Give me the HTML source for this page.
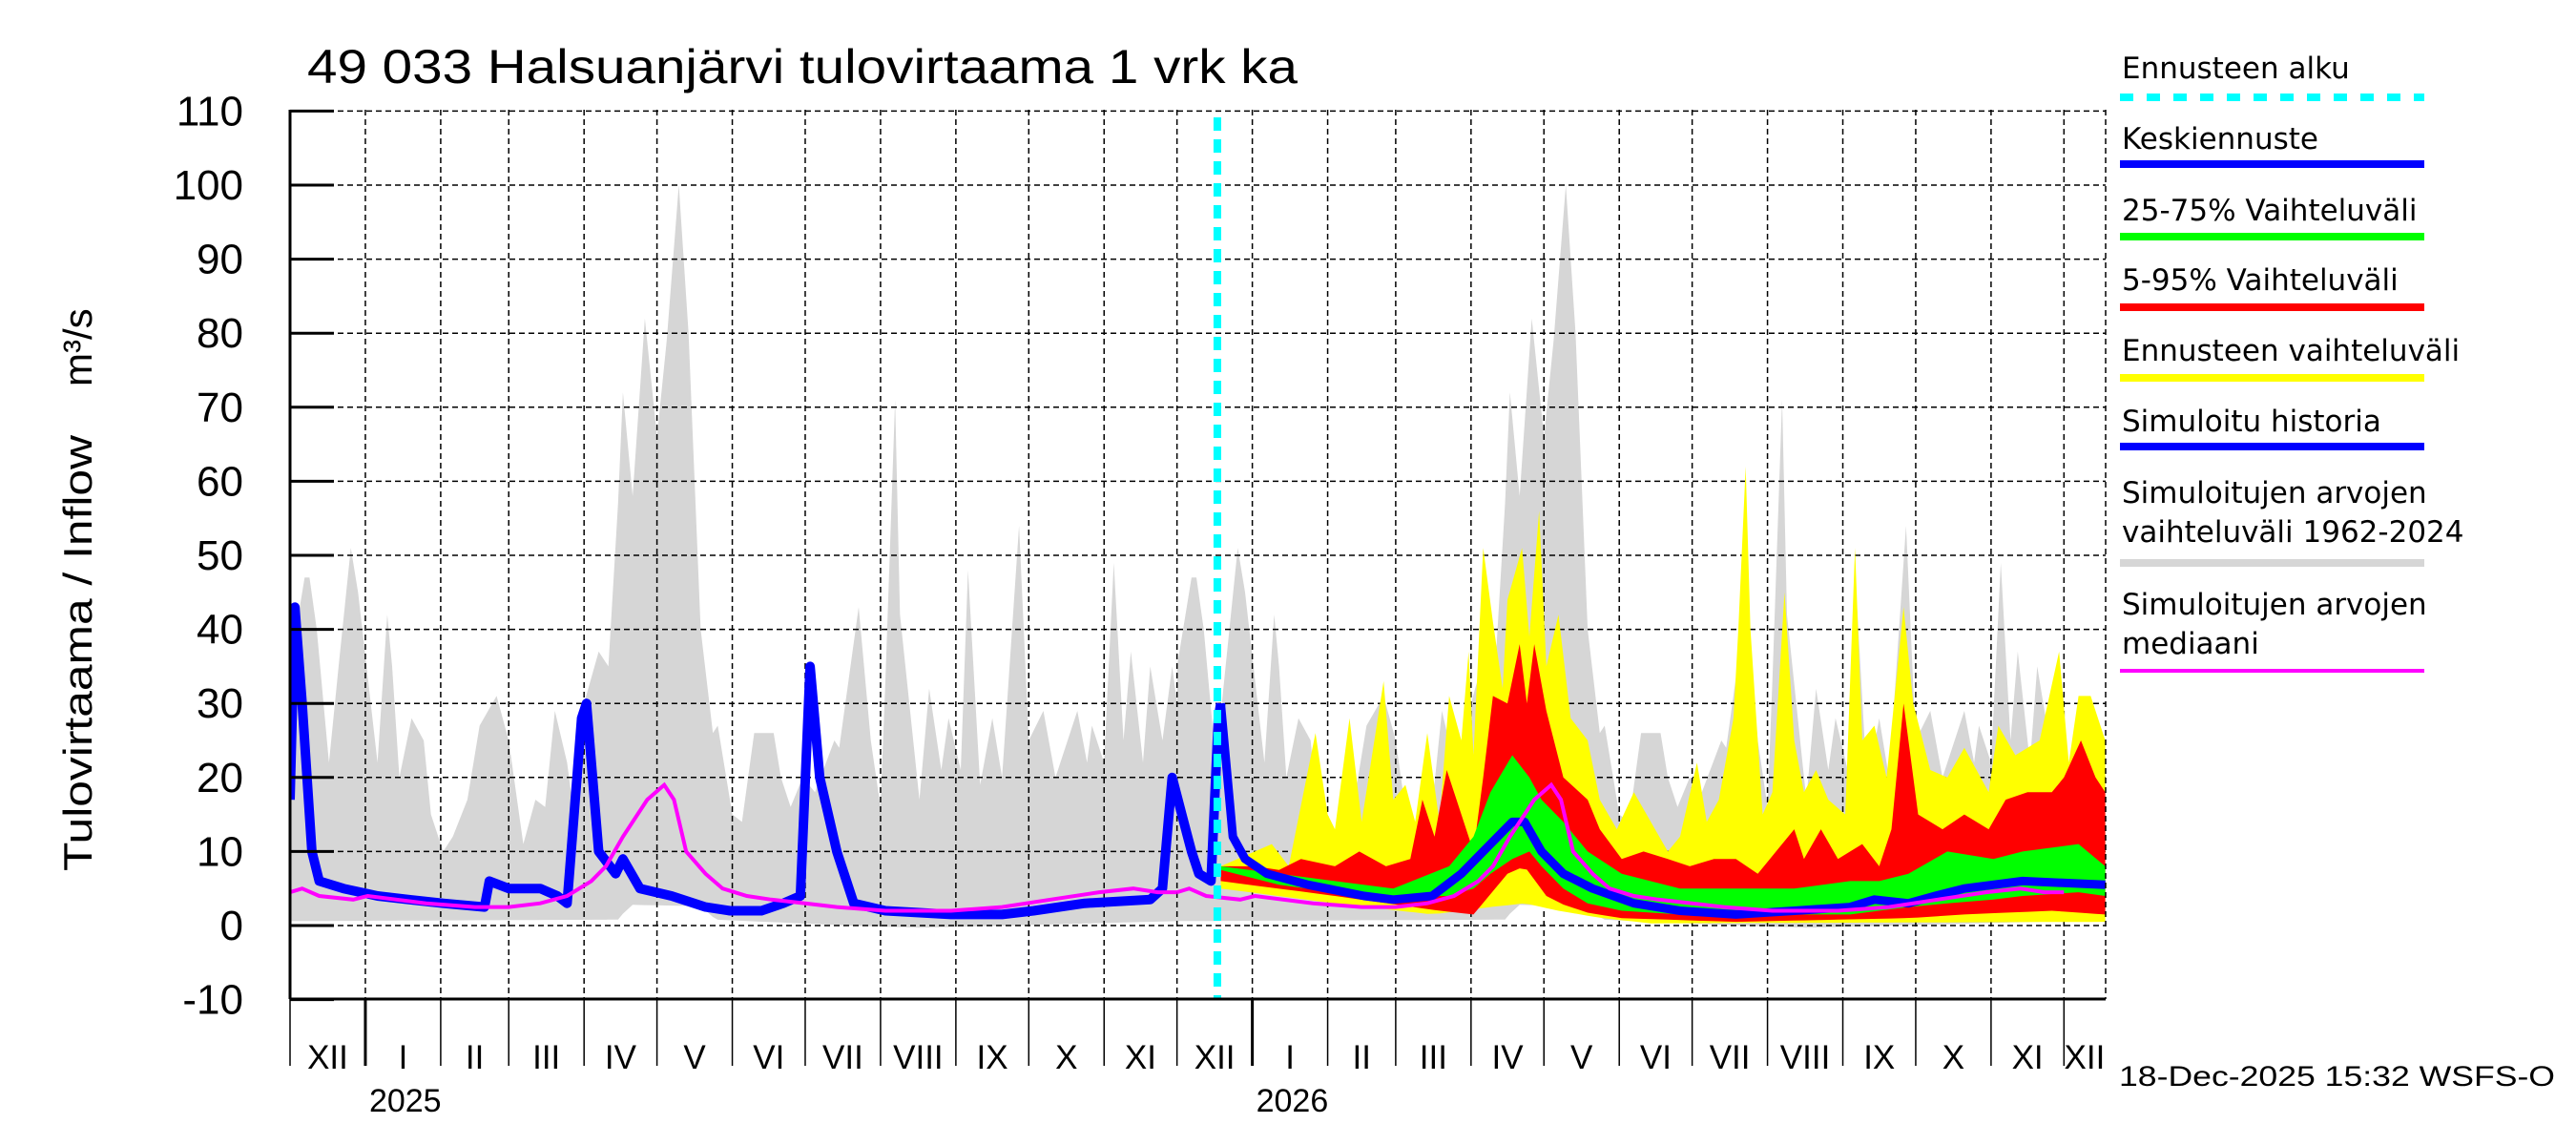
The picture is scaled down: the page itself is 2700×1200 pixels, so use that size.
<!DOCTYPE html>
<html><head><meta charset="utf-8"><style>
body{margin:0;background:#fff}
svg{display:block}
</style></head><body>
<svg id="chart" width="2700" height="1200" viewBox="0 0 2700 1200" xmlns="http://www.w3.org/2000/svg" font-family="'Liberation Sans', sans-serif">
<text x="0" y="0" font-size="42" transform="translate(96,405) rotate(-90)">m³/s</text>
</svg>
<script>
// Data (day index from 1 Dec 2024)
const monthLabels = ["XII","I","II","III","IV","V","VI","VII","VIII","IX","X","XI","XII","I","II","III","IV","V","VI","VII","VIII","IX","X","XI","XII"];
const monthStartDays = [0,31,62,90,121,151,182,212,243,274,304,335,365,396,427,455,486,516,547,577,608,639,669,700,730];
const yTicks = [-10,0,10,20,30,40,50,60,70,80,90,100,110];
const yearLabels = ["2025","2026"];
const yearStartDays = [31,396];
const forecastStartDay = 381.6;
const climateYears = [0,365];
// Climatology (one year)
const climDays = [0,6,8,11,16,20,25,28,36,40,42,45,50,55,58,63,67,73,78,85,90,96,101,105,109,114,116,121,127,131,135,137,141,146,151,155,160,164,169,174,176,182,186,191,199,202,206,211,216,224,226,234,239,243,245,249,251,259,263,268,271,276,279,284,289,293,300,304,310,315,324,328,330,335,339,343,346,351,354,359,363,365];
const climMax = [35,47,47,40,22,35,51,45,22,42,35,20,28,25,15,10,12,17,27,31,25,11,17,16,29,22,17,30,37,35,57,72,58,82,66,79,100,80,40,26,27,15,14,26,26,20,16,20,18,25,24,43,25,16,33,71,42,17,32,21,28,21,48,19,28,20,54,25,29,20,29,22,27,22,49,25,37,22,35,25,35,30];
const minDays = [0,135,140,170,175,230,260,365];
const climMin = [0.6,0.8,2.8,2.6,0.8,0,-0.3,0.6];
const medDays = [0,5,12,26,32,56,76,90,103,114,124,130,137,147,154,158,163,171,178,188,198,212,225,245,272,293,313,333,347,357,365];
const medVals = [4.5,5,4,3.5,4,3,2.5,2.5,3,4,6,8,12,17,19,17,10,7,5,4,3.5,3,2.5,2,2,2.5,3.5,4.5,5,4.5,4.5];
// Simulated history
const histDays = [0,2,5,9,12,22,36,49,63,80,82,90,103,110,114,120,122,127,134,137,144,157,171,181,194,203,210,214,218,225,232,245,272,293,306,327,354,359,363,367,371,374,379,382,383];
const histVals = [17,43,30,10,6,5,4,3.5,3,2.5,6,5,5,4,3,28,30,10,7,9,5,4,2.5,2,2,3,4,35,20,10,3,2,1.5,1.5,2,3,3.5,5,20,15,10,7,6,28,30];
// Forecast mean
const fcDays = [383,388,393,402,419,442,454,470,482,494,503,508,515,524,536,553,572,595,619,642,652,666,677,689,713,747];
const fcMean = [30,12,9,7,5.5,4,3.5,4,7,11,14,14,10,7,5,3,2,1.5,2,2.5,3.5,3,4,5,6,5.5];
// 25-75 %
const gDays = [383,407,430,454,477,487,494,503,510,515,524,534,548,572,595,619,642,654,666,682,701,713,736,747];
const g25 = [7.5,5.5,4.5,4,4,5,7,9,10,8,5,3,2,1.5,1.2,1.5,1.5,2,2.5,3,3.5,4,4.5,4];
const g75 = [8,7,6,5,8,12,18,23,20,17,14,10,7,5,5,5,6,6,7,10,9,10,11,8];
// 5-95 %
const rDays = [383,397,407,416,430,440,451,461,466,471,476,482,487,491,495,501,506,509,512,517,524,534,539,548,557,567,576,586,595,604,619,623,630,637,647,654,659,664,670,680,689,699,706,715,725,730,737,743,747];
const r95 = [8,8,7.5,9,8,10,8,9,17,12,21,15,10,20,31,30,38,30,38,29,20,17,13,9,10,9,8,9,9,7,13,9,13,9,11,8,13,30,15,13,15,13,17,18,18,20,25,20,18];
const r5Days = [383,430,473,487,501,508,517,529,548,595,666,689,725,747];
const r5 = [6,4,2,1.5,7,8,4,2,1,0.5,1,1.5,2,1.5];
// Forecast range
const yDays = [383,397,404,411,422,427,430,436,441,450,454,459,463,468,473,477,482,485,487,491,495,499,501,507,510,514,517,522,527,534,539,546,553,560,567,572,579,583,588,594,596,599,601,606,610,615,619,623,628,633,640,644,647,652,657,664,668,675,682,689,699,703,710,720,728,732,736,741,747];
const yMax = [8,10,11,8,26,15,13,28,14,33,17,19,14,26,14,31,25,37,23,51,41,32,44,51,39,56,35,42,28,25,17,13,18,14,10,12,22,14,17,28,40,62,40,15,18,45,25,18,21,17,15,51,25,27,20,43,30,21,20,24,18,27,23,25,37,22,31,31,25];
const yMinDays = [383,430,470,494,508,522,540,560,747];
const yMin = [5,3,1.5,2.5,3,2,1,0.3,0.5];

const X0=304, PXD=2.547, Y0=970, PXV=7.76, XR=2207, YT=115, YB=1047;
const x = d => X0 + d*PXD;
const y = v => Y0 - v*PXV;
const NS="http://www.w3.org/2000/svg";
const svg=document.getElementById('chart');
function el(tag, attrs, parent){const e=document.createElementNS(NS,tag);for(const k in attrs)e.setAttribute(k,attrs[k]);(parent||svg).appendChild(e);return e;}
function interp(ds,vs,d){if(d<=ds[0])return vs[0];for(let i=1;i<ds.length;i++){if(d<=ds[i]){const t=(d-ds[i-1])/(ds[i]-ds[i-1]);return vs[i-1]+t*(vs[i]-vs[i-1]);}}return vs[vs.length-1];}
function band(days, hi, loDays, lo, off){let p=[];for(let i=0;i<days.length;i++)p.push(x(days[i]+off).toFixed(1)+','+y(hi[i]).toFixed(1));
  for(let i=days.length-1;i>=0;i--)p.push(x(days[i]+off).toFixed(1)+','+y(interp(loDays,lo,days[i])).toFixed(1));return p.join(' ');}
function line(days, vals, off){return days.map((d,i)=>x(d+off).toFixed(1)+','+y(vals[i]).toFixed(1)).join(' ');}

const clip=el('clipPath',{id:'pc'});el('rect',{x:X0,y:YT,width:XR-X0,height:YB-YT},clip);
const g=el('g',{'clip-path':'url(#pc)'});

climateYears.forEach(off=>{
  const p=el('polygon',{points:band(climDays,climMax,minDays,climMin,off),fill:'#d6d6d6'},g);
  
  
});
yTicks.forEach(v=>{const l=el('line',{x1:X0,x2:XR,y1:y(v),y2:y(v),stroke:'#000','stroke-width':1.5,'stroke-dasharray':'6,4'},g);
  
  });
monthStartDays.forEach(d=>{const l=el('line',{x1:x(d),x2:x(d),y1:YT,y2:YB,stroke:'#000','stroke-width':1.5,'stroke-dasharray':'6,4'},g);
  
  });
let p=el('polygon',{points:band(yDays,yMax,yMinDays,yMin,0),fill:'#ffff00'},g);


p=el('polygon',{points:band(rDays,r95,r5Days,r5,0),fill:'#ff0000'},g);


p=el('polygon',{points:band(gDays,g75,gDays,g25,0),fill:'#00ff00'},g);


let l=el('polyline',{points:line(histDays,histVals,0),fill:'none',stroke:'#0000ff','stroke-width':10,'stroke-linejoin':'round'},g);


l=el('polyline',{points:line(fcDays,fcMean,0),fill:'none',stroke:'#0000ff','stroke-width':9,'stroke-linejoin':'round'},g);


climateYears.forEach(off=>{const m=el('polyline',{points:line(medDays,medVals,off),fill:'none',stroke:'#ff00ff','stroke-width':4},g);
  
  });
l=el('line',{x1:x(forecastStartDay),x2:x(forecastStartDay),y1:YT+8,y2:YB,stroke:'#00ffff','stroke-width':8,'stroke-dasharray':'14,9'});



el('line',{x1:X0,x2:X0,y1:YT,y2:YB,stroke:'#000','stroke-width':3});
el('line',{x1:X0,x2:XR,y1:YB,y2:YB,stroke:'#000','stroke-width':3});
el('line',{x1:XR,x2:XR,y1:YT,y2:YB,stroke:'#000','stroke-width':1.5,'stroke-dasharray':'6,4'});
yTicks.forEach(v=>{el('line',{x1:X0,x2:X0+46,y1:y(v),y2:y(v),stroke:'#000','stroke-width':3});
  const t=el('text',{x:255,y:y(v)+15,'text-anchor':'end','font-size':44});t.textContent=v;
  
  });
monthStartDays.forEach((d,i)=>{const yr=yearStartDays.includes(d);
  el('line',{x1:x(d),x2:x(d),y1:YB,y2:1117,stroke:'#000','stroke-width':yr?3:1.5});
  const nd=i+1<monthStartDays.length?monthStartDays[i+1]:747;
  const t=el('text',{x:(x(d)+x(nd))/2,y:1120,'text-anchor':'middle','font-size':35});t.textContent=monthLabels[i];
  
  });
yearLabels.forEach((s,i)=>{const t=el('text',{x:x(yearStartDays[i])+4,y:1165,'font-size':34});t.textContent=s;
  
  });

let t=el('text',{x:322,y:87,'font-size':50,textLength:1038,lengthAdjust:'spacingAndGlyphs'});t.textContent='49 033 Halsuanjärvi tulovirtaama 1 vrk ka';


t=el('text',{x:0,y:0,'font-size':42,transform:'translate(96,913) rotate(-90)',textLength:457,lengthAdjust:'spacingAndGlyphs'});t.textContent='Tulovirtaama / Inflow';


t=el('text',{x:2221,y:1138,'font-size':30,textLength:457,lengthAdjust:'spacingAndGlyphs'});t.textContent='18-Dec-2025 15:32 WSFS-O';



const legTexts=[["Ennusteen alku"],["Keskiennuste"],["25-75% Vaihteluväli"],["5-95% Vaihteluväli"],["Ennusteen vaihteluväli"],["Simuloitu historia"],["Simuloitujen arvojen","vaihteluväli 1962-2024"],["Simuloitujen arvojen","mediaani"]];
const legColors=["#00ffff","#0000ff","#00ff00","#ff0000","#ffff00","#0000ff","#d6d6d6","#ff00ff"];
const legTextY=[82,156,231,304,378,452,527,644];
const legLineY=[102,172,248,322,396,468,590,703];
legTexts.forEach((lines,i)=>{
  lines.forEach((s,j)=>{const tt=el('text',{x:2224,y:legTextY[i]+j*41,'font-size':31,'font-family':"'DejaVu Sans', sans-serif"});tt.textContent=s;
    
    });
  const a={x1:2222,x2:2541,y1:legLineY[i],y2:legLineY[i],stroke:legColors[i],'stroke-width':i==7?4:8};
  if(i==0)a['stroke-dasharray']='14,14';
  const ll=el('line',a);
  
  
});
</script>
</body></html>
